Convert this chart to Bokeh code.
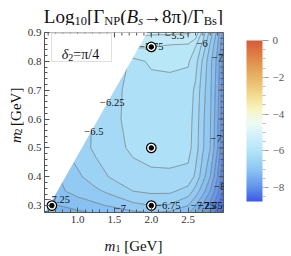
import os, glob
import numpy as np
from bokeh.plotting import figure
from bokeh.layouts import column, row
from bokeh.models import (Label, ColorBar, LinearColorMapper, FixedTicker, Range1d,
                          BoxAnnotation, PrintfTickFormatter, ColumnDataSource)
from bokeh.core.properties import value
from bokeh.embed import file_html
from bokeh.resources import INLINE

# ---------------- data ----------------
m1_grid = [0.55, 0.75, 1.0, 1.25, 1.5, 1.75, 2.0, 2.25, 2.5, 2.6, 2.7, 2.8, 2.9, 2.98]
m2_grid = [0.276, 0.3, 0.35, 0.4, 0.5, 0.6, 0.7, 0.8, 0.85, 0.9]
log_ratio = [  # rows: m2_grid, columns: m1_grid
    [-7.45, -7.38, -7.30, -7.22, -7.15, -7.05, -7.00, -7.05, -7.20, -7.45, -7.75, -8.05, -8.40, -8.60],
    [-7.35, -7.25, -7.15, -7.05, -6.95, -6.82, -6.75, -6.78, -7.00, -7.25, -7.55, -7.85, -8.25, -8.50],
    [-7.15, -7.05, -6.90, -6.80, -6.65, -6.50, -6.45, -6.45, -6.60, -6.85, -7.15, -7.50, -7.95, -8.30],
    [-7.10, -7.00, -6.80, -6.60, -6.45, -6.35, -6.30, -6.30, -6.33, -6.55, -6.90, -7.25, -7.75, -8.20],
    [-6.90, -6.80, -6.62, -6.45, -6.33, -6.20, -6.15, -6.13, -6.16, -6.38, -6.72, -7.00, -7.50, -8.05],
    [-6.80, -6.70, -6.60, -6.47, -6.30, -6.16, -6.12, -6.10, -6.14, -6.35, -6.70, -6.98, -7.45, -8.00],
    [-6.60, -6.55, -6.50, -6.42, -6.30, -6.18, -6.10, -6.08, -6.12, -6.30, -6.65, -6.95, -7.40, -7.95],
    [-6.90, -6.85, -6.80, -6.75, -6.70, -6.08, -5.96, -5.95, -5.97, -6.15, -6.55, -6.92, -7.35, -7.85],
    [-6.00, -6.00, -6.00, -5.95, -5.85, -5.72, -5.74, -5.80, -5.82, -6.00, -6.35, -6.80, -7.25, -7.75],
    [-5.40, -5.40, -5.40, -5.40, -5.40, -5.40, -5.45, -5.45, -5.47, -5.55, -6.10, -6.60, -7.10, -7.65],
]
contour_levels = [-8.75, -8.5, -8.25, -8.0, -7.75, -7.5, -7.25, -7.0, -6.75, -6.5,
                  -6.25, -6.0, -5.75, -5.5, -5.25]

boundary_m1 = [0.56, 1.945]       # kinematic edge of the allowed region
boundary_m2 = [0.276, 0.9]

bench_m1 = [0.65, 2.0, 2.0, 2.0]
bench_m2 = [0.3, 0.3, 0.5, 0.85]

lab_m1 = [2.32, 2.0, 2.69, 2.90, 1.47, 1.22, 2.88, 2.93, 0.73, 1.58, 2.23, 2.70, 2.76, 2.80]
lab_m2 = [0.891, 0.85, 0.863, 0.814, 0.658, 0.557, 0.533, 0.366, 0.32, 0.29, 0.30, 0.30, 0.30, 0.30]
lab_txt = ["−5.5", "−5.75", "−6", "−7", "−6.25", "−6.5", "−7", "−8", "−7.25", "−7",
           "−6.75", "−7.25", "−7.5", "−7.75"]

x_ticks = [1.0, 1.5, 2.0, 2.5]
y_ticks = [0.3, 0.4, 0.5, 0.6, 0.7, 0.8, 0.9]
cbar_ticks = [-8, -6, -4, -2, 0]
cbar_low, cbar_high = -8.75, 0.0

X0, X1 = 0.55, 2.98
Y0, Y1 = 0.276, 0.9
FRAME = 180  # frame size in px

# ---------------- colour map (ThermometerColors-like) ----------------
cmap_stops = [(-8.75, "#3d5ae6"), (-8.0, "#6092ea"), (-7.0, "#8ec6f2"), (-6.0, "#b3e5f8"),
              (-5.25, "#d0f0fa"), (-4.5, "#ecfbf8"), (-3.75, "#f8f5c4"), (-3.0, "#f2dd92"),
              (-2.0, "#e7b567"), (-1.0, "#e08a4a"), (0.0, "#d65c38")]


def _rgb(h):
    h = h.lstrip("#")
    return [int(h[i:i + 2], 16) for i in (0, 2, 4)]


def cmap(v):
    vs = [s[0] for s in cmap_stops]
    v = min(max(v, vs[0]), vs[-1])
    for (v0, c0), (v1, c1) in zip(cmap_stops[:-1], cmap_stops[1:]):
        if v0 <= v <= v1:
            t = (v - v0) / (v1 - v0)
            a, b = _rgb(c0), _rgb(c1)
            return "#%02x%02x%02x" % tuple(int(round(a[i] + t * (b[i] - a[i]))) for i in range(3))
    return cmap_stops[-1][1]


band_colors = [cmap(0.5 * (a + b)) for a, b in zip(contour_levels[:-1], contour_levels[1:])]
palette = [cmap(v) for v in np.linspace(cbar_low, cbar_high, 256)]

# ---------------- text measuring for multi-part labels ----------------
try:
    from PIL import ImageFont
except Exception:
    ImageFont = None
_fc = {}
_fp = {}


def _font_path(style):
    if style in _fp:
        return _fp[style]
    name = "LiberationSerif-Italic.ttf" if style == "italic" else "LiberationSerif-Regular.ttf"
    found = None
    for root in ["/usr/share/fonts", "/usr/local/share/fonts", os.path.expanduser("~/.fonts")]:
        hits = glob.glob(os.path.join(root, "**", name), recursive=True)
        if hits:
            found = hits[0]
            break
    _fp[style] = found
    return found


def text_width(t, size, style="normal"):
    try:
        path = _font_path(style)
        if path and ImageFont is not None:
            key = (path, size)
            if key not in _fc:
                _fc[key] = ImageFont.truetype(path, int(size * 10))
            return _fc[key].getlength(t) / 10.0
    except Exception:
        pass
    return 0.5 * size * len(t)


FONT = "Liberation Serif"


def run_layout(pieces, cx, cy, angle=0.0):
    """Lay out text pieces (text, size, style, baseline shift) centred on cx.
    Leading spaces are turned into an explicit gap (SVG would collapse them)."""
    items = []
    for t, s, st, d in pieces:
        stripped = t.lstrip(" ")
        gap = text_width(" ", s, st) * (len(t) - len(stripped))
        items.append((stripped, s, st, d, gap, text_width(stripped, s, st)))
    pos = -sum(g + w for *_, g, w in items) / 2.0
    out = dict(x=[], y=[], text=[], size=[], style=[], angle=[])
    for t, s, st, d, gap, w in items:
        pos += gap
        if angle == 0:
            out["x"].append(cx + pos); out["y"].append(cy + d)
        else:
            out["x"].append(cx - d); out["y"].append(cy + pos)
        out["text"].append(t); out["size"].append(f"{s}px"); out["style"].append(st)
        out["angle"].append(angle)
        pos += w
    return out


def text_fig(w, h, data):
    f = figure(width=w, height=h, x_range=Range1d(0, w), y_range=Range1d(0, h),
               output_backend="svg", toolbar_location=None, min_border=0,
               x_axis_location=None, y_axis_location=None, title=None)
    f.grid.visible = False
    f.outline_line_color = None
    f.background_fill_color = "white"
    f.border_fill_color = "white"
    f.text(x="x", y="y", text="text", text_font_size="size", text_font_style="style",
           angle="angle", source=ColumnDataSource(data), text_font=value(FONT),
           text_align="left", text_baseline="alphabetic", text_color="#111111")
    return f


# ---------------- main figure ----------------
p = figure(width=267, height=205, x_range=Range1d(X0, X1), y_range=Range1d(Y0, Y1),
           output_backend="svg", toolbar_location=None, title=None,
           min_border_left=19, min_border_right=68, min_border_top=7, min_border_bottom=18)
p.grid.visible = False
p.outline_line_color = "#555555"
p.background_fill_color = "white"
p.border_fill_color = "white"

p.contour(x=m1_grid, y=m2_grid, z=np.array(log_ratio), levels=contour_levels,
          fill_color=band_colors, line_color="#555555", line_width=0.7, line_alpha=0.75)

# mask outside the kinematically allowed region
slope = (boundary_m1[1] - boundary_m1[0]) / (boundary_m2[1] - boundary_m2[0])
ext = 0.3
mask_x = [boundary_m1[0] - slope * ext, boundary_m1[1] + slope * ext, -5.0, -5.0]
mask_y = [boundary_m2[0] - ext, boundary_m2[1] + ext, boundary_m2[1] + ext, boundary_m2[0] - ext]
p.patch(mask_x, mask_y, fill_color="white", line_color=None)

# contour labels
p.text(x=lab_m1, y=lab_m2, text=lab_txt, text_font=value(FONT), text_font_size="10.5px",
       text_align="center", text_baseline="middle", text_color="#111111")

# benchmark points
p.scatter(bench_m1, bench_m2, size=9.5, marker="circle", fill_color="white",
          line_color="black", line_width=1.2)
p.scatter(bench_m1, bench_m2, size=4.5, marker="circle", fill_color="black", line_color="black")

# axes (bottom / left) with inward ticks
minor_x = [round(v, 2) for v in np.arange(0.6, 2.95, 0.1)]
minor_y = [round(v, 3) for v in np.arange(0.28, 0.9, 0.02)]
for ax, tk, mn in ((p.xaxis[0], x_ticks, minor_x), (p.yaxis[0], y_ticks, minor_y)):
    ax.ticker = FixedTicker(ticks=tk, minor_ticks=mn)
    ax.formatter = PrintfTickFormatter(format="%.1f")
    ax.axis_line_color = "#555555"
    ax.major_tick_line_color = "#555555"
    ax.minor_tick_line_color = "#555555"
    ax.major_tick_in = 5
    ax.major_tick_out = 0
    ax.minor_tick_in = 3
    ax.minor_tick_out = 0
    ax.major_label_text_font = FONT
    ax.major_label_text_font_size = "11px"
    ax.major_label_text_color = "#333333"
    ax.major_label_standoff = 3

# top / right frame ticks (inward), drawn from the same tick lists
dx_px = (X1 - X0) / FRAME
dy_px = (Y1 - Y0) / FRAME
for tk, ln in ((x_ticks, 5), (minor_x, 3)):
    p.segment(x0=tk, y0=[Y1] * len(tk), x1=tk, y1=[Y1 - ln * dy_px] * len(tk),
              line_color="#555555", line_width=1)
for tk, ln in ((y_ticks, 5), (minor_y, 3)):
    p.segment(x0=[X1] * len(tk), y0=tk, x1=[X1 - ln * dx_px] * len(tk), y1=tk,
              line_color="#555555", line_width=1)

# colour bar
mapper = LinearColorMapper(palette=palette, low=cbar_low, high=cbar_high)
cb = ColorBar(color_mapper=mapper, width=16, height=161, location=(202, 11), padding=0,
              ticker=FixedTicker(ticks=cbar_ticks, minor_ticks=[v * 0.5 for v in range(-17, 0)]),
              major_label_overrides={t: ("0" if t == 0 else "−%d" % (-t)) for t in cbar_ticks},
              major_label_text_font=FONT, major_label_text_font_size="11px",
              major_label_text_color="#555555", label_standoff=4,
              major_tick_line_color="#999999", major_tick_in=0, major_tick_out=6,
              minor_tick_line_color="#bbbbbb", minor_tick_in=0, minor_tick_out=3,
              bar_line_color=None, border_line_color=None, background_fill_color=None)
p.add_layout(cb, "center")

# legend-like box with the phase
p.add_layout(BoxAnnotation(left=7, right=67, bottom=151, top=179, left_units="screen",
                           right_units="screen", bottom_units="screen", top_units="screen",
                           fill_color="white", fill_alpha=1.0, line_color="#999999",
                           line_width=1))
leg = run_layout([("δ", 14, "italic", 0), ("2", 10, "normal", -3), ("=π/4", 14, "normal", 0)],
                 36, 158)
for x, y, t, s, st in zip(leg["x"], leg["y"], leg["text"], leg["size"], leg["style"]):
    p.add_layout(Label(x=x, y=y, x_units="screen", y_units="screen", text=t, text_font=FONT,
                       text_font_size=s, text_font_style=st, text_color="#111111",
                       text_baseline="alphabetic"))

# ---------------- title and axis titles ----------------
title_fig = text_fig(291, 25, run_layout(
    [("Log", 19, "normal", 0), ("10", 12.5, "normal", -5), ("[Γ", 19, "normal", 0),
     ("NP", 12.5, "normal", -4.5), ("(", 19, "normal", 0), ("B", 19, "italic", 0),
     ("s", 12.5, "italic", -4.5), ("→8π)/Γ", 19, "normal", 0), ("Bs", 12.5, "normal", -4.5),
     ("]", 19, "normal", 0)], 133, 9.5))

ylab_fig = text_fig(24, 205, run_layout(
    [("m", 15, "italic", 0), ("2", 10, "normal", -2.5), (" [GeV]", 15, "normal", 0)],
    15.5, 108, angle=np.pi / 2))

xlab_fig = text_fig(291, 26, run_layout(
    [("m", 15, "italic", 0), ("1", 10, "normal", -3), (" [GeV]", 15, "normal", 0)],
    133, 11))

layout = column(title_fig, row(ylab_fig, p, spacing=0), xlab_fig, spacing=0)

open("out.html", "w").write(file_html(layout, INLINE))
